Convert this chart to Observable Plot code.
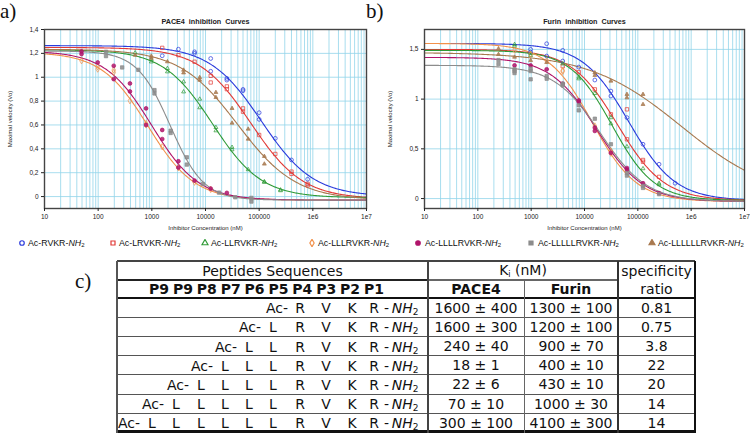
<!DOCTYPE html>
<html>
<head>
<meta charset="utf-8">
<script src="https://cdn.jsdelivr.net/npm/d3@7"></script>
<script src="https://cdn.jsdelivr.net/npm/@observablehq/plot@0.6"></script>
<style>
html,body{margin:0;padding:0;background:#fff;}
#root{position:relative;width:750px;height:434px;overflow:hidden;background:#fff;}
.panel{position:absolute;top:0;}
.plabel{position:absolute;font-family:"Liberation Serif","DejaVu Serif",serif;font-size:21px;line-height:1;color:#111;}
.leg{position:absolute;top:236px;height:14px;font-family:"Liberation Sans",Arial,sans-serif;font-size:8.8px;line-height:14px;color:#111;white-space:nowrap;}
.leg svg{position:absolute;top:3px;left:0;}
.leg span{position:absolute;top:0;}
.leg sub{font-size:6px;vertical-align:-1px;}
.tbl{position:absolute;left:0;top:0;width:750px;height:434px;font-family:"DejaVu Sans",Verdana,sans-serif;font-size:14px;color:#111;}
.tbl .ln{position:absolute;}
.tbl .cell{position:absolute;display:flex;align-items:center;justify-content:center;white-space:nowrap;line-height:1;}
.tbl .tok{position:absolute;white-space:nowrap;line-height:1;transform:translate(-50%,-50%);}
.tbl .tokR{position:absolute;white-space:nowrap;line-height:1;transform:translate(-100%,-50%);}
.tbl .tokL{position:absolute;white-space:nowrap;line-height:1;transform:translate(0,-50%);}
.tbl sub{font-size:9px;vertical-align:-2px;line-height:0;}
.kisub{font-size:8px;vertical-align:-2px;}
.prow{font-weight:bold;word-spacing:-1px;}
</style>
</head>
<body>
<div id="root"></div>
<script>
// ---------- shared labels ----------
const seriesNames = ["RVKR","LRVKR","LLRVKR","LLLRVKR","LLLLRVKR","LLLLLRVKR","LLLLLLRVKR"];
const lineColors = ["#2b3bdc","#e23a36","#2f9a36","#f2914a","#b0146a","#8c8c8c","#a8794f"];
const symbolNames = ["circle","square","triangle","diamond","circle","square","triangle"];
const symbolFilled = [false,false,false,false,true,true,true];

const xTicks = [10,100,1000,10000,100000,1e6,1e7];
const xTickLabels = ["10","100","1000","10000","100000","1e6","1e7"];
const yTicksA = [0,0.2,0.4,0.6,0.8,1,1.2,1.4];
const yTickLabelsA = ["0","0,2","0,4","0,6","0,8","1","1,2","1,4"];
const yTicksB = [0,0.5,1,1.5];
const yTickLabelsB = ["0","0,5","1","1,5"];

const titleA = "PACE4  inhibition  Curves";
const titleB = "Furin  inhibition  Curves";
const yLabel = "Maximal velocity (Vo)";
const xLabel = "Inhibitor Concentration (nM)";

// ---------- PACE4 measured points ----------
const paceRVKR_x = [1562,3125,6250,6250,12500,12500,25000,25000,50000,50000,100000,100000,200000,400000,800000];
const paceRVKR_y = [1.18,1.235,1.213,1.20,1.157,1.05,0.99,0.976,0.898,0.887,0.703,0.647,0.488,0.307,0.145];
const paceLRVKR_x = [1562,3125,6250,12500,12500,25000,25000,50000,50000,100000,200000,400000,400000,800000,800000];
const paceLRVKR_y = [1.246,1.185,1.13,1.012,0.956,0.923,0.90,0.739,0.711,0.516,0.357,0.209,0.19,0.106,0.094];
const paceLLRVKR_x = [488,977,977,1953,1953,3906,3906,7812,7812,15625,15625,31250,31250,62500,125000,125000,250000,250000];
const paceLLRVKR_y = [1.205,1.149,1.129,1.074,1.046,0.962,0.878,0.817,0.745,0.58,0.552,0.413,0.393,0.226,0.125,0.12,0.056,0.05];
const paceLLLRVKR_x = [49,98,98,195,195,391,781,781,1562,3125,6250,12500];
const paceLLLRVKR_y = [1.138,1.088,1.068,1.06,1.04,0.803,0.613,0.60,0.418,0.24,0.12,0.06];
const paceLLLLRVKR_x = [49,49,98,195,195,391,391,781,781,1562,1562,3125,3125,6250,12500,25000];
const paceLLLLRVKR_y = [1.216,1.194,1.124,1.096,0.984,0.948,0.881,0.739,0.60,0.558,0.482,0.296,0.243,0.134,0.067,0.031];
const paceLLLLLRVKR_x = [140,140,280,560,1120,1120,2240,2240,4480,4480,8960,17900,35800,71700,71700];
const paceLLLLLRVKR_y = [1.213,1.177,1.082,1.062,0.892,0.864,0.552,0.533,0.329,0.268,0.106,0.033,-0.006,-0.011,-0.042];
const paceLLLLLLRVKR_x = [488,977,977,1953,3906,3906,7812,7812,15625,15625,31250,31250,62500,62500,125000,125000];
const paceLLLLLLRVKR_y = [1.185,1.177,1.16,1.13,1.06,1.037,0.998,0.976,0.873,0.831,0.739,0.616,0.566,0.482,0.337,0.273];

// PACE4 fitted curve parameters (top, bottom, IC50 nM, Hill slope)
const paceTop    = [1.265, 1.25, 1.23, 1.21, 1.22, 1.22, 1.235];
const paceBottom = [0.0, -0.02, -0.01, -0.03, -0.03, -0.03, -0.03];
const paceIC50   = [110000, 70000, 13500, 850, 1000, 2200, 40000];
const paceHill   = [0.9, 0.9, 0.95, 1.0, 1.0, 1.4, 0.8];

// ---------- Furin measured points ----------
const furRVKR_x = [977,977,1953,1953,3906,3906,7812,15625,31250,31250,62500,125000,250000,500000];
const furRVKR_y = [1.5,1.473,1.557,1.433,1.49,1.383,1.322,1.192,1.081,1.031,0.814,0.546,0.345,0.154];
const furLRVKR_x = [3906,7812,15625,31250,62500,62500,125000,125000,250000];
const furLRVKR_y = [1.33,1.272,1.098,0.847,0.897,0.596,0.388,0.37,0.218];
const furLLRVKR_x = [488,488,977,977,3906,7812,7812,15625,31250,31250,62500,125000,250000,250000];
const furLLRVKR_y = [1.55,1.533,1.46,1.44,1.356,1.222,1.205,1.058,0.814,0.753,0.522,0.301,0.154,0.141];
const furLLLRVKR_x = [488,977,1953,3906,3906,15625,31250,31250,62500];
const furLLLRVKR_y = [1.493,1.45,1.386,1.289,1.279,0.73,0.479,0.455,0.27];
const furLLLLRVKR_x = [488,977,1953,3906,7812,7812,15625,15625,31250,62500,62500,125000,250000];
const furLLLLRVKR_y = [1.339,1.339,1.30,1.155,0.987,0.971,0.713,0.68,0.46,0.307,0.291,0.154,0.054];
const furLLLLLRVKR_x = [244,244,488,488,488,977,977,977,1953,1953,3906,3906,7812,7812,15625,31250,62500,62500,125000,125000,250000];
const furLLLLLRVKR_y = [1.393,1.353,1.299,1.282,1.262,1.306,1.282,1.199,1.232,1.205,1.155,1.138,0.938,0.887,0.803,0.546,0.257,0.231,0.127,0.107,0.044];
const furLLLLLLRVKR_x = [244,244,488,977,1953,15625,15625,31250,62500,62500,125000,125000];
const furLLLLLLRVKR_y = [1.507,1.45,1.423,1.389,1.369,1.265,1.239,1.182,1.048,1.014,1.048,0.947];

// Furin fitted curve parameters
const furTop    = [1.56, 1.50, 1.49, 1.56, 1.42, 1.34, 1.47];
const furBottom = [-0.02, -0.02, -0.02, -0.03, -0.03, -0.03, -0.02];
const furIC50   = [68000, 42000, 33000, 14000, 17000, 20000, 660000];
const furHill   = [1.0, 1.0, 1.1, 1.05, 1.0, 1.0, 0.5];

// ---------- table ----------
const positionHeader = ["P9","P9","P8","P7","P6","P5","P4","P3","P2","P1"];
const pace4Ki = ["1600 ± 400","1600 ± 300","240 ± 40","18 ± 1","22 ± 6","70 ± 10","300 ± 100"];
const furinKi = ["1300 ± 100","1200 ± 100","900 ± 70","400 ± 10","430 ± 10","1000 ± 30","4100 ± 300"];
const specificity = ["0.81","0.75","3.8","22","20","14","14"];

// ---------- build plots ----------
const paceXs = [paceRVKR_x,paceLRVKR_x,paceLLRVKR_x,paceLLLRVKR_x,paceLLLLRVKR_x,paceLLLLLRVKR_x,paceLLLLLLRVKR_x];
const paceYs = [paceRVKR_y,paceLRVKR_y,paceLLRVKR_y,paceLLLRVKR_y,paceLLLLRVKR_y,paceLLLLLRVKR_y,paceLLLLLLRVKR_y];
const furXs = [furRVKR_x,furLRVKR_x,furLLRVKR_x,furLLLRVKR_x,furLLLLRVKR_x,furLLLLLRVKR_x,furLLLLLLRVKR_x];
const furYs = [furRVKR_y,furLRVKR_y,furLLRVKR_y,furLLLRVKR_y,furLLLLRVKR_y,furLLLLLRVKR_y,furLLLLLLRVKR_y];

function fitCurve(top, bottom, ic50, hill) {
  return d3.range(301).map(i => {
    const x = Math.pow(10, 1 + i * 6 / 300);
    return {x, y: bottom + (top - bottom) / (1 + Math.pow(x / ic50, hill))};
  });
}

function panel({xs, ys, tops, bottoms, ic50s, hills, yDomain, yTicks, yTickLabels, title, marginLeft, marginRight}) {
  const marks = [
    Plot.gridX({ticks: 100, stroke: "#92d4ea", strokeOpacity: 1, strokeWidth: 0.8}),
    Plot.gridY(yTicks, {stroke: "#92d4ea", strokeOpacity: 1, strokeWidth: 0.8}),
  ];
  for (let s = 0; s < 7; s++) {
    marks.push(Plot.line(fitCurve(tops[s], bottoms[s], ic50s[s], hills[s]), {x: "x", y: "y", stroke: lineColors[s], strokeWidth: 1.1}));
  }
  for (let s = 0; s < 7; s++) {
    const pts = xs[s].map((x, i) => ({x, y: ys[s][i]}));
    marks.push(Plot.dot(pts, {
      x: "x", y: "y", symbol: symbolNames[s], r: symbolNames[s] === "triangle" ? 1.45 : 1.9,
      stroke: lineColors[s], strokeWidth: 0.9, strokeOpacity: 0.8,
      fill: symbolFilled[s] ? lineColors[s] : "none", fillOpacity: 0.85
    }));
  }
  marks.push(
    Plot.frame({stroke: "#444", strokeWidth: 1.4}),
    Plot.axisX(xTicks, {tickFormat: d => xTickLabels[xTicks.indexOf(d)], tickSize: 3, tickPadding: 3, label: null, fontSize: 6.5}),
    Plot.axisY(yTicks, {tickFormat: d => yTickLabels[yTicks.indexOf(d)], tickSize: 3, tickPadding: 3, label: null, fontSize: 6.5}),
    Plot.text([title], {text: d => d, frameAnchor: "top", lineAnchor: "middle", dy: -7.5, fontWeight: "bold", fontSize: 7.2}),
    Plot.text([yLabel], {text: d => d, frameAnchor: "left", textAnchor: "middle", lineAnchor: "middle", rotate: -90, dx: -34, fontSize: 6}),
    Plot.text([xLabel], {text: d => d, frameAnchor: "bottom", textAnchor: "middle", lineAnchor: "middle", dy: 20, fontSize: 6})
  );
  return Plot.plot({
    width: 375, height: 236,
    marginLeft, marginRight, marginTop: 29, marginBottom: 28,
    x: {type: "log", domain: [10, 1e7]},
    y: {domain: yDomain},
    style: {fontFamily: "'Liberation Sans', Arial, sans-serif", fontSize: "6.5px", color: "#222", background: "transparent", overflow: "visible"},
    marks
  });
}

const root = document.getElementById("root");

const plotA = panel({xs: paceXs, ys: paceYs, tops: paceTop, bottoms: paceBottom, ic50s: paceIC50, hills: paceHill,
  yDomain: [-0.1, 1.4], yTicks: yTicksA, yTickLabels: yTickLabelsA, title: titleA, marginLeft: 44, marginRight: 9});
plotA.classList.add("panel"); plotA.style.left = "0px";
root.appendChild(plotA);

const plotB = panel({xs: furXs, ys: furYs, tops: furTop, bottoms: furBottom, ic50s: furIC50, hills: furHill,
  yDomain: [-0.1, 1.7], yTicks: yTicksB, yTickLabels: yTickLabelsB, title: titleB, marginLeft: 49, marginRight: 6});
plotB.classList.add("panel"); plotB.style.left = "375px";
root.appendChild(plotB);

// panel letters
[["a)", 0, 1], ["b)", 366, 1], ["c)", 75, 271]].forEach(([t, x, y]) => {
  const d = document.createElement("div");
  d.className = "plabel"; d.textContent = t;
  d.style.left = x + "px"; d.style.top = y + "px";
  root.appendChild(d);
});

// legend
const legendSymbolX = [22, 113, 205, 312, 418, 531, 652];
const legendTextX = [28, 119, 211, 318, 425, 538, 658];
const symMap = {circle: d3.symbolCircle, square: d3.symbolSquare, triangle: d3.symbolTriangle, diamond: d3.symbolDiamond};
for (let s = 0; s < 7; s++) {
  const item = document.createElement("div");
  item.className = "leg";
  item.style.left = (legendSymbolX[s] - 4) + "px";
  const path = d3.symbol(symMap[symbolNames[s]], 16)();
  const fill = symbolFilled[s] ? lineColors[s] : "none";
  item.innerHTML = `<svg width="8" height="8" viewBox="-4 -4 8 8"><path d="${path}" fill="${fill}" stroke="${lineColors[s]}" stroke-width="1.2"/></svg>` +
    `<span style="left:${legendTextX[s] - legendSymbolX[s] + 4}px">Ac-${seriesNames[s]}-<i>NH</i><sub>2</sub></span>`;
  root.appendChild(item);
}

// ---------- table (absolute layout) ----------
const colX = [117, 428, 524, 618, 695];
const rowY = [261, 280, 298];
for (let k = 1; k <= 7; k++) rowY.push(298 + k * 134.5 / 7);
const tbl = document.createElement("div");
tbl.className = "tbl";
let h = "";
const hline = (x1, x2, y, w, c) => { h += `<div class="ln" style="left:${x1}px;top:${y - w / 2}px;width:${x2 - x1}px;height:${w}px;background:${c}"></div>`; };
const vline = (x, y1, y2, w, c) => { h += `<div class="ln" style="left:${x - w / 2}px;top:${y1}px;width:${w}px;height:${y2 - y1}px;background:${c}"></div>`; };
const cell = (x1, x2, y1, y2, content, extra = "") => { h += `<div class="cell" style="left:${x1}px;top:${y1}px;width:${x2 - x1}px;height:${y2 - y1}px;${extra}"><span>${content}</span></div>`; };
const bottomY = rowY[rowY.length - 1];
// text
cell(colX[0], colX[1], rowY[0], rowY[1], "Peptides Sequences");
cell(colX[1], colX[3], rowY[0], rowY[1], `K<span class="kisub">i</span>&nbsp;(nM)`);
cell(colX[3], colX[4], rowY[0], rowY[1], "specificity");
h += `<div class="tokL prow" style="left:149px;top:${(rowY[1] + rowY[2]) / 2}px">${positionHeader.join(" ")}</div>`;
cell(colX[1], colX[2], rowY[1], rowY[2], "PACE4", "font-weight:bold;");
cell(colX[2], colX[3], rowY[1], rowY[2], "Furin", "font-weight:bold;");
cell(colX[3], colX[4], rowY[1], rowY[2], "ratio");
const letterCenters = [152, 176, 201, 225, 249, 273, 300, 326, 352, 374];
seriesNames.forEach((p, i) => {
  const y1 = rowY[2 + i], y2 = rowY[3 + i], yc = (y1 + y2) / 2 + 0.5;
  const letters = p.split("");
  const start = letterCenters.length - letters.length;
  letters.forEach((L, j) => { h += `<div class="tok" style="left:${letterCenters[start + j]}px;top:${yc}px">${L}</div>`; });
  h += `<div class="tokR" style="left:${letterCenters[start] - 12}px;top:${yc}px">Ac-</div>`;
  h += `<div class="tokL" style="left:384px;top:${yc}px">-&thinsp;<i>NH</i><sub>2</sub></div>`;
  cell(colX[1], colX[2], y1, y2, pace4Ki[i]);
  cell(colX[2], colX[3], y1, y2, furinKi[i]);
  cell(colX[3], colX[4], y1, y2, specificity[i]);
});
// lines
hline(colX[0], colX[4], rowY[0], 1.5, "#444");
hline(colX[0], colX[1], rowY[1], 2, "#222");
hline(colX[1], colX[3], rowY[1], 1.5, "#666");
hline(colX[0], colX[4], rowY[2], 2.5, "#111");
for (let k = 3; k < rowY.length - 1; k++) hline(colX[0], colX[4], rowY[k], 1, "#555");
hline(colX[0], colX[4] + 1, bottomY - 1.2, 2.5, "#111");
vline(colX[0], rowY[0], bottomY, 2, "#555");
vline(colX[1], rowY[0], bottomY, 1.5, "#444");
vline(colX[2], rowY[1], bottomY, 1, "#666");
vline(colX[3], rowY[0], bottomY, 1.5, "#333");
vline(colX[4], rowY[0], bottomY, 2.5, "#111");
tbl.innerHTML = h;
root.appendChild(tbl);
</script>
</body>
</html>
